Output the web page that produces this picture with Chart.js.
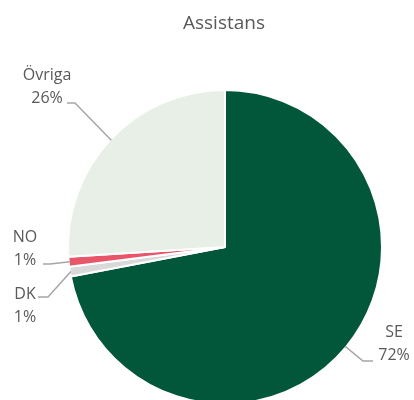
<!DOCTYPE html>
<html>
<head>
<meta charset="utf-8">
<script src="https://cdn.jsdelivr.net/npm/chart.js@4"></script>
<style>
  html, body { margin: 0; padding: 0; background: #fff; overflow: hidden; width: 414px; height: 400px; }
  canvas { display: block; }
</style>
</head>
<body>
<canvas id="pieChart" width="414" height="410"></canvas>
<script>
const title = "Assistans";
const labels = ["SE", "DK", "NO", "Övriga"];
const values = [72, 1, 1, 26];
const colors = ["#02573a", "#d9d9d9", "#e8566a", "#e7efe7"];

// where each data label sits (text centre, first line y) and the elbow of its leader line
const labelLayout = [
  { x: 394, y: 332, elbowX: 363, elbowY: 361, endX: 373 },
  { x: 25, y: 294, elbowX: 48, elbowY: 297, endX: 38 },
  { x: 25, y: 237, elbowX: 50, elbowY: 264, endX: 43 },
  { x: 47, y: 75, elbowX: 75, elbowY: 103, endX: 67 },
];

const labelPlugin = {
  id: "pieLabels",
  afterDraw(chart) {
    const ctx = chart.ctx;
    const meta = chart.getDatasetMeta(0);
    const total = values.reduce((a, b) => a + b, 0);

    ctx.save();
    ctx.fillStyle = "#595959";
    ctx.font = "19px 'Open Sans', sans-serif";
    ctx.textAlign = "center";
    ctx.textBaseline = "middle";
    ctx.fillText(title, 224, 24);

    meta.data.forEach((arc, i) => {
      const mid = (arc.startAngle + arc.endAngle) / 2;
      const r = arc.outerRadius - 1;
      const px = arc.x + Math.cos(mid) * r;
      const py = arc.y + Math.sin(mid) * r;
      const lay = labelLayout[i];

      ctx.strokeStyle = "#a6a6a6";
      ctx.lineWidth = 1.5;
      ctx.beginPath();
      ctx.moveTo(px, py);
      ctx.lineTo(lay.elbowX, lay.elbowY);
      ctx.lineTo(lay.endX, lay.elbowY);
      ctx.stroke();

      ctx.fillStyle = "#595959";
      ctx.font = "16px 'Open Sans', sans-serif";
      ctx.fillText(labels[i], lay.x, lay.y);
      ctx.fillText(Math.round(values[i] / total * 100) + "%", lay.x, lay.y + 23);
    });
    ctx.restore();
  },
};

new Chart(document.getElementById("pieChart").getContext("2d"), {
  type: "pie",
  data: {
    labels: labels,
    datasets: [
      {
        data: values,
        backgroundColor: colors,
        borderColor: "#ffffff",
        borderWidth: 2,
      },
    ],
  },
  options: {
    responsive: false,
    animation: false,
    radius: 157,
    layout: { padding: { top: 90, left: 68, right: 32, bottom: 6 } },
    plugins: {
      legend: { display: false },
      title: { display: false },
      tooltip: { enabled: false },
    },
  },
  plugins: [labelPlugin],
});
</script>
</body>
</html>
